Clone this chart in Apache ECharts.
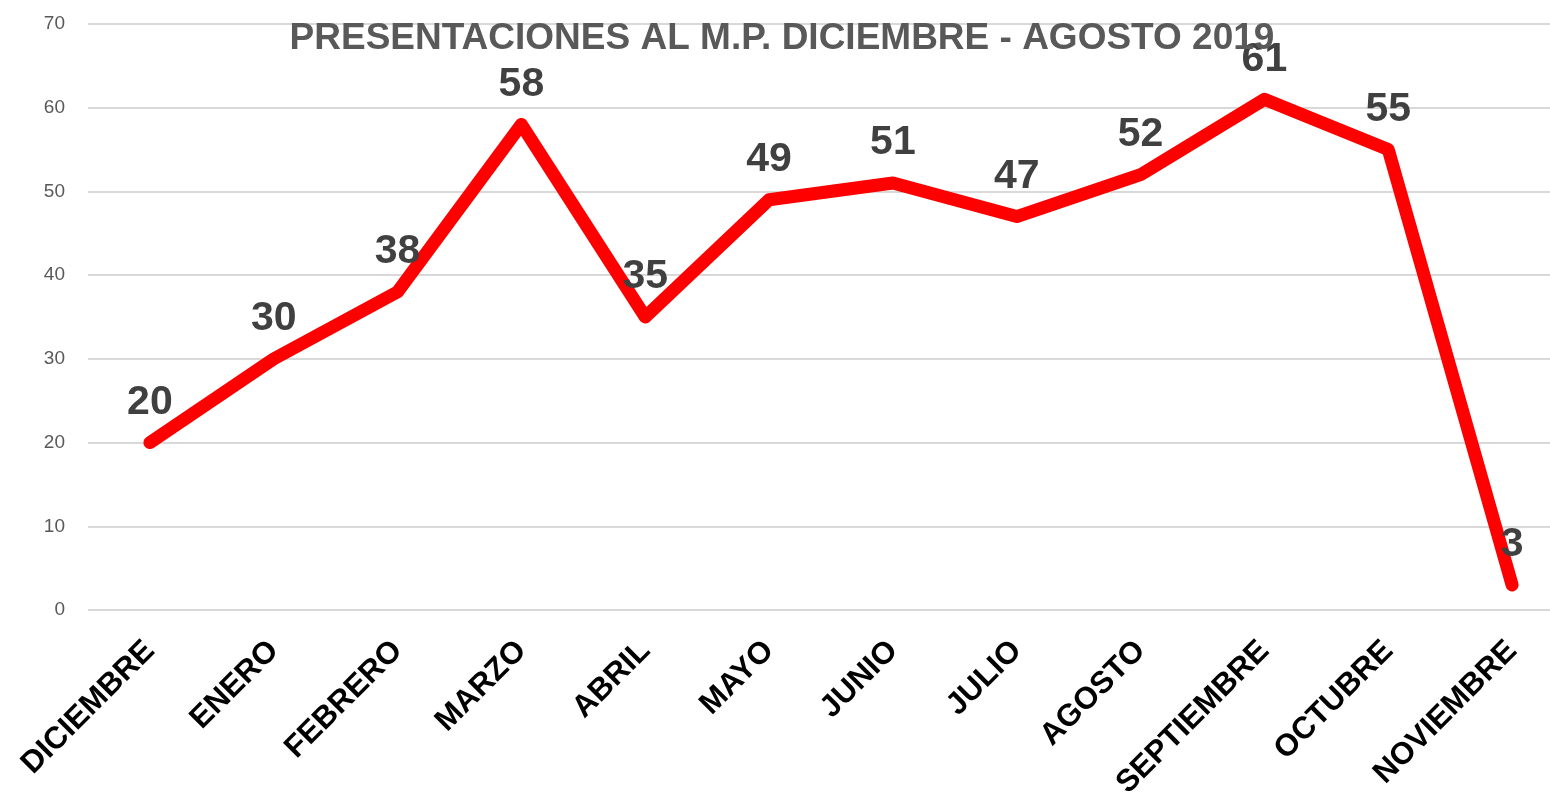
<!DOCTYPE html>
<html>
<head>
<meta charset="utf-8">
<script src="https://cdn.jsdelivr.net/npm/echarts@6/dist/echarts.min.js"></script>
<style>
  html, body { margin: 0; padding: 0; background: #fff; }
  #chart { width: 1550px; height: 792px; }
</style>
</head>
<body>
<div id="chart"></div>
<script>
const months = ["DICIEMBRE", "ENERO", "FEBRERO", "MARZO", "ABRIL", "MAYO", "JUNIO",
  "JULIO", "AGOSTO", "SEPTIEMBRE", "OCTUBRE", "NOVIEMBRE"];
const presentaciones = [20, 30, 38, 58, 35, 49, 51, 47, 52, 61, 55, 3];
const titleText = "PRESENTACIONES AL M.P. DICIEMBRE - AGOSTO 2019";

const chart = echarts.init(document.getElementById("chart"));
chart.setOption({
  animation: false,
  textStyle: { fontFamily: "Liberation Sans, Arial, sans-serif" },
  title: {
    text: titleText,
    left: 777,
    textAlign: "center",
    top: 15,
    textStyle: { fontSize: 37, fontWeight: "bold", color: "#595959" }
  },
  // plot area runs past the right edge in the original, so the last band is cut
  grid: { left: 88, width: 1486, top: 24, bottom: 182, outerBoundsMode: "none", containLabel: false },
  xAxis: {
    type: "category",
    data: months,
    boundaryGap: true,
    axisLine: { show: false },
    axisTick: { show: false },
    axisLabel: {
      interval: 0,
      rotate: 45,
      margin: 36,
      align: "right",
      verticalAlign: "middle",
      fontSize: 31,
      fontWeight: "bold",
      color: "#000"
    }
  },
  yAxis: {
    type: "value",
    min: 0,
    max: 70,
    interval: 10,
    axisLine: { show: false },
    axisTick: { show: false },
    axisLabel: { fontSize: 19, color: "#595959", margin: 23 },
    splitLine: { lineStyle: { color: "#d9d9d9", width: 2 } }
  },
  series: [{
    type: "line",
    data: presentaciones,
    symbol: "circle",
    symbolSize: 1,
    itemStyle: { color: "#ff0000" },
    lineStyle: { color: "#ff0000", width: 13, cap: "round", join: "round" },
    label: {
      show: true,
      position: "top",
      distance: 19,
      fontSize: 41,
      fontWeight: "bold",
      color: "#404040"
    }
  }]
});
</script>
</body>
</html>
